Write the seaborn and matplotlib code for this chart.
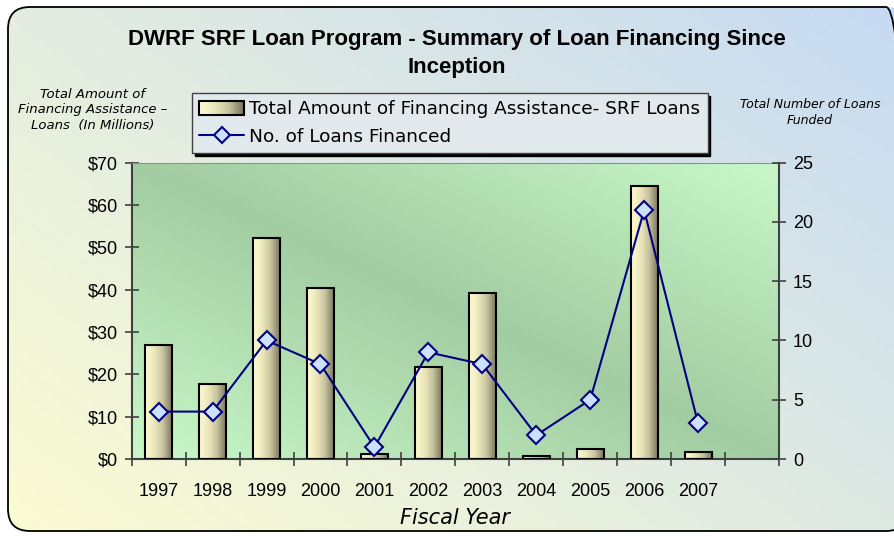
import numpy as np
import pandas as pd
import matplotlib
matplotlib.use("Agg")
import matplotlib.pyplot as plt
import seaborn as sns
from matplotlib.colors import LinearSegmentedColormap, to_rgb
from matplotlib.patches import FancyBboxPatch, Patch, Rectangle
from matplotlib.lines import Line2D
from matplotlib.legend_handler import HandlerBase
from matplotlib.ticker import FuncFormatter, FixedLocator

# 数据
years = ['1997', '1998', '1999', '2000', '2001', '2002', '2003', '2004', '2005', '2006', '2007']
amounts = [27.0, 17.7, 52.1, 40.4, 1.1, 21.8, 39.3, 0.8, 2.4, 64.4, 1.6]   # 百万美元
loans = [4, 4, 10, 8, 1, 9, 8, 2, 5, 21, 3]

sns.set_theme(style="white")
plt.rcParams["font.family"] = ["Liberation Sans", "DejaVu Sans"]
for k in ["text.color", "axes.labelcolor", "xtick.color", "ytick.color"]:
    plt.rcParams[k] = "black"

W, H = 894, 536
fig = plt.figure(figsize=(W / 100, H / 100), dpi=100)
fig.patch.set_facecolor("white")


def blend(c1, c2, t):
    c1, c2 = np.array(to_rgb(c1)), np.array(to_rgb(c2))
    return c1[None, None, :] * (1 - t[..., None]) + c2[None, None, :] * t[..., None]


bar_cmap = LinearSegmentedColormap.from_list("bar", ["#fffcd2", "#ece8bc", "#c8c4a0", "#7c7960"])


class GradientHandler(HandlerBase):
    """图例中的渐变色块"""
    def create_artists(self, legend, orig_handle, xdescent, ydescent, width, height,
                       fontsize, trans):
        arts = []
        n = 24
        for i in range(n):
            r = Rectangle((-xdescent + width * i / n, -ydescent), width / n + 0.3, height,
                          facecolor=bar_cmap(i / (n - 1)), edgecolor="none", transform=trans)
            arts.append(r)
        arts.append(Rectangle((-xdescent, -ydescent), width, height, facecolor="none",
                              edgecolor="black", linewidth=1.5, transform=trans))
        return arts


# 背景渐变（圆角边框）
bg = fig.add_axes([0, 0, 1, 1])
bg.set_zorder(-10)
bg.set_xlim(0, W)
bg.set_ylim(0, H)
bg.axis("off")
uu, vv = np.meshgrid(np.linspace(0, 1, 200), np.linspace(0, 1, 120))
img = blend("#fcfcd2", "#c6daf2", np.clip(0.55 * uu + 0.45 * vv, 0, 1))
frame = FancyBboxPatch((8, 5), 900, 524, boxstyle="round,pad=0,rounding_size=22",
                       facecolor="none", edgecolor="black", linewidth=1.3)
bg.add_patch(frame)
im = bg.imshow(img, extent=[0, W, 0, H], origin="lower", aspect="auto", zorder=0)
im.set_clip_path(frame)

# 主坐标轴
ax = fig.add_axes([131.7 / W, 1 - 459 / H, (779 - 131.7) / W, (459 - 162.7) / H])
ax.patch.set_visible(False)
df = pd.DataFrame({"year": years, "amount": amounts})
sns.barplot(data=df, x="year", y="amount", color="#d8d4a8", width=0.5,
            edgecolor="black", linewidth=1.5, ax=ax, zorder=2)

# 绘图区渐变
t = np.abs(uu + vv - 1)
area = blend("#a2cca2", "#c8f8c8", t)
ax.imshow(area, extent=[0, 1, 0, 1], transform=ax.transAxes, origin="lower",
          aspect="auto", zorder=0)

# 柱子渐变
grad = np.linspace(0, 1, 64)[None, :]
for p in ax.patches[:len(years)]:
    x0, w, h = p.get_x(), p.get_width(), p.get_height()
    gi = ax.imshow(grad, cmap=bar_cmap, extent=[x0, x0 + w, 0, h], aspect="auto",
                   origin="lower", zorder=2.5)
    gi.set_clip_path(p)
    p.set_facecolor("none")
    p.set_zorder(3)

ax.set_xlim(-0.5, len(years) + 0.5)
ax.set_ylim(0, 70)
ax.set_yticks(np.arange(0, 71, 10))
ax.yaxis.set_major_formatter(FuncFormatter(lambda v, _: f"${v:.0f}"))
ax.xaxis.set_major_locator(FixedLocator(np.arange(len(years) + 2) - 0.5))
ax.xaxis.set_minor_locator(FixedLocator(np.arange(len(years))))
ax.xaxis.set_major_formatter(FuncFormatter(lambda v, _: ""))
ax.set_xticklabels(years, minor=True)
ax.tick_params(axis="x", which="major", direction="inout", length=10, width=1.2,
               color="#404040", bottom=True)
ax.tick_params(axis="x", which="minor", length=0, labelsize=13, pad=17)
ax.tick_params(axis="y", direction="inout", length=10, width=1.2, color="#404040",
               labelsize=13, left=True, pad=5)
ax.set_xlabel("Fiscal Year", fontsize=15, fontstyle="italic", family="DejaVu Sans", labelpad=6)
ax.set_ylabel("")
for s in ["left", "bottom"]:
    ax.spines[s].set_color("#404040")
    ax.spines[s].set_linewidth(1.5)
ax.spines["top"].set_color("#909090")
ax.spines["top"].set_linewidth(0.8)
ax.spines["right"].set_visible(False)

# 次坐标轴：贷款数量
ax2 = ax.twinx()
ax2.patch.set_visible(False)
sns.lineplot(x=np.arange(len(years)), y=loans, ax=ax2, color="#000080", linewidth=1.5,
             marker="D", markersize=9, markerfacecolor="#cce0ff",
             markeredgecolor="#000080", markeredgewidth=1.5, zorder=5)
ax2.set_ylim(0, 25)
ax2.set_yticks(np.arange(0, 26, 5))
ax2.tick_params(axis="y", direction="inout", length=10, width=1.2, color="#404040",
                labelsize=13, right=True, pad=5)
ax2.set_ylabel("")
for s in ["left", "bottom", "top"]:
    ax2.spines[s].set_visible(False)
ax2.spines["right"].set_color("#404040")
ax2.spines["right"].set_linewidth(1.5)
ax2.set_xlim(-0.5, len(years) + 0.5)

# 标题与轴标题
fig.text(457 / W, 1 - 40 / H, "DWRF SRF Loan Program - Summary of Loan Financing Since",
         ha="center", va="center", fontsize=16, fontweight="bold")
fig.text(457 / W, 1 - 68 / H, "Inception", ha="center", va="center", fontsize=16,
         fontweight="bold")
fig.text(93 / W, 1 - 110 / H, "Total Amount of\nFinancing Assistance \u2013\nLoans  (In Millions)",
         ha="center", va="center", fontsize=9.5, fontstyle="italic", family="DejaVu Sans",
         linespacing=1.3)
fig.text(810 / W, 1 - 113 / H, "Total Number of Loans\nFunded", ha="center", va="center",
         fontsize=9, fontstyle="italic", family="DejaVu Sans", linespacing=1.3)

# 图例
handles = [Patch(facecolor="#d8d4a8", edgecolor="black", linewidth=1.5),
           Line2D([], [], color="#000080", linewidth=1.5, marker="D", markersize=8,
                  markerfacecolor="#cce0ff", markeredgecolor="#000080", markeredgewidth=1.5)]
leg = fig.legend(handles, ["Total Amount of Financing Assistance- SRF Loans",
                           "No. of Loans Financed"],
                 loc="upper left", bbox_to_anchor=(192 / W, 1 - 93 / H),
                 bbox_transform=fig.transFigure, borderaxespad=0, fancybox=False,
                 shadow={"color": "black", "alpha": 1}, framealpha=1,
                 prop={"family": "DejaVu Sans", "size": 13.3}, handlelength=2.4,
                 handleheight=0.75, handletextpad=0.3, labelspacing=0.5, borderpad=0.4,
                 handler_map={Patch: GradientHandler()})
leg.get_frame().set_facecolor("#e2e9ec")
leg.get_frame().set_edgecolor("#404040")
leg.get_frame().set_linewidth(1.0)

fig.savefig("out.png", dpi=100)
